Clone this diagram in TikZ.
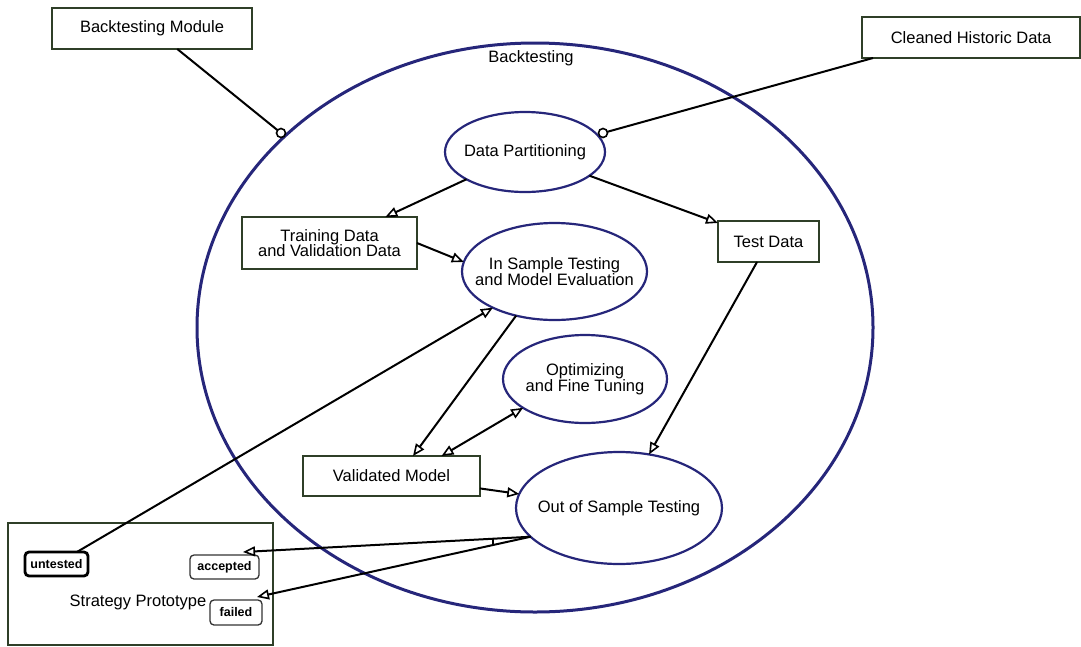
\documentclass[tikz,border=0pt]{standalone}
\usepackage{fontspec}
\setmainfont{Liberation Sans}
\usetikzlibrary{shapes.geometric,arrows.meta}
\definecolor{navy}{HTML}{26267A}
\definecolor{boxedge}{HTML}{2F3F28}
\begin{document}
\begin{tikzpicture}[x=1pt,y=-1pt,
  every node/.style={inner sep=0pt, outer sep=0pt, align=center,
    font=\fontsize{16.5}{15.5}\selectfont},
  block/.style={rectangle, draw=boxedge, line width=2.2pt, fill=white},
  activity/.style={ellipse, draw=navy, line width=2.2pt, fill=white},
  tag/.style={rectangle, draw=black!80, line width=1.3pt, rounded corners=4pt,
    fill=white, font=\fontsize{12.5}{12}\selectfont\bfseries},
  port/.style={circle, draw=black, fill=white, line width=1.6pt, minimum size=9pt},
  flow/.style={line width=2pt, -{Triangle[open,length=12pt,width=10pt,line width=1.6pt]}},
  both/.style={line width=2pt, {Triangle[open,length=12pt,width=10pt,line width=1.6pt]}-{Triangle[open,length=12pt,width=10pt,line width=1.6pt]}},
  link/.style={line width=2pt},
]
\useasboundingbox (0,0) rectangle (1081,646);

% outer activity
\node[ellipse, draw=navy, line width=3pt, minimum width=676pt, minimum height=569pt] (bt) at (535,327.5) {};
\node (btlabel) at (531,58) {Backtesting};

% external blocks
\node[block, minimum width=200pt, minimum height=41pt] (module) at (152,28.5) {Backtesting Module};
\node[block, minimum width=218pt, minimum height=41pt] (cleaned) at (971,37.5) {Cleaned Historic Data};

% inner activities (text set as a centred label so the ellipse keeps its size)
\node[activity, minimum width=160pt, minimum height=80pt,
  label={center:Data Partitioning}] (dp) at (525,152) {};
\node[activity, minimum width=185pt, minimum height=97pt,
  label={center:{In Sample Testing\\and Model Evaluation}}] (ins) at (554.5,271.5) {};
\node[activity, minimum width=164pt, minimum height=88pt,
  label={center:{Optimizing\\and Fine Tuning}}] (opt) at (585,379) {};
\node[activity, minimum width=206pt, minimum height=112pt,
  label={center:Out of Sample Testing}] (out) at (619,508) {};

% data blocks
\node[block, minimum width=175pt, minimum height=52pt] (train) at (329.5,243) {Training Data\\and Validation Data};
\node[block, minimum width=101pt, minimum height=41pt] (test) at (768.5,241.5) {Test Data};
\node[block, minimum width=177pt, minimum height=40pt] (valid) at (391.5,476) {Validated Model};

% strategy prototype with its states
\node[block, minimum width=265pt, minimum height=122pt] (strat) at (140.5,584) {};
\node (stratlabel) at (138,602) {Strategy Prototype};
\node[tag, draw=black, line width=2.8pt, minimum width=63pt, minimum height=24pt] (untested) at (56.5,564) {untested};
\node[tag, minimum width=69pt, minimum height=24pt] (accepted) at (224.5,567) {accepted};
\node[tag, minimum width=52pt, minimum height=25pt] (failed) at (236,612.5) {failed};

% ports on the boundaries
\node[port] (modport) at (281,133) {};
\node[port] (cleanport) at (603,133) {};

% connectors
\draw[link] (module) -- (modport);
\draw[link] ([xshift=11pt]cleaned.south west) -- (cleanport);
\draw[flow] (dp) -- (train);
\draw[flow] (dp) -- (test);
\draw[flow] (train.east) -- (ins.174);
\draw[flow] (ins.229) -- ([xshift=21.5pt]valid.north);
\draw[both] (opt.205.5) -- ([xshift=50pt]valid.north);
\draw[flow] (test) -- (out);
\draw[flow] (valid) -- (out);
\draw[flow] (untested) -- (ins);
\draw[flow] (out.198) -- ([xshift=-16pt,yshift=3pt]accepted.north east);
\draw[flow] (out.198) -- ([xshift=-5pt,yshift=3pt]failed.north east);
\draw[line width=1.6pt] (493,538.5) -- (493,545.5);
\end{tikzpicture}
\end{document}
